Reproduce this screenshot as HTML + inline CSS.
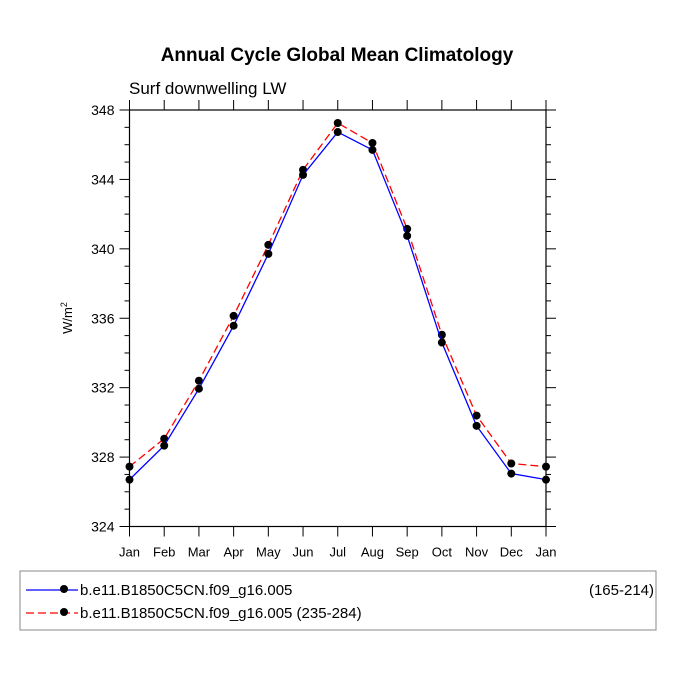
<!DOCTYPE html>
<html><head><meta charset="utf-8"><style>
body{margin:0;background:#fff}
svg{display:block;font-family:"Liberation Sans",sans-serif}
</style></head><body>
<svg id="c" width="675" height="676">
<text x="337" y="61" text-anchor="middle" font-size="19" font-weight="bold">Annual Cycle Global Mean Climatology</text>
<text x="129" y="94" font-size="17">Surf downwelling LW</text>
<text transform="translate(72,318) rotate(-90)" text-anchor="middle" font-size="13">W/m<tspan dy="-5" font-size="9">2</tspan></text>
<g id="axes"></g><g id="series"></g>
<rect x="20" y="571" width="636" height="59" fill="none" stroke="#888"/>
<g>
<line x1="26" y1="590" x2="78" y2="590" stroke="blue" stroke-width="1.3"/><circle cx="64" cy="589" r="4" fill="#000"/>
<text x="80" y="595" font-size="15">b.e11.B1850C5CN.f09_g16.005</text><text x="654" y="595" font-size="15" text-anchor="end">(165-214)</text></g>
<g>
<line x1="26" y1="613" x2="78" y2="613" stroke="red" stroke-width="1.3" stroke-dasharray="8,4"/><circle cx="64" cy="612" r="4" fill="#000"/>
<text x="80" y="618" font-size="15">b.e11.B1850C5CN.f09_g16.005 (235-284)</text></g>
</svg>
<script>
const months=["Jan","Feb","Mar","Apr","May","Jun","Jul","Aug","Sep","Oct","Nov","Dec","Jan"];
const seriesA=[326.7,328.66,331.94,335.57,339.71,344.26,346.73,345.7,340.75,334.6,329.8,327.05,326.7];
const seriesB=[327.45,329.06,332.4,336.14,340.23,344.55,347.25,346.1,341.15,335.05,330.39,327.63,327.45];
const yTicks=[324,328,332,336,340,344,348];
const NS="http://www.w3.org/2000/svg";
const L=129.5,R=546,T=110,B=526.5,ymin=324,ymax=348;
const xs=i=>L+(R-L)*i/(months.length-1);
const ys=v=>B-(v-ymin)/(ymax-ymin)*(B-T);
function mk(tag,at,parent){const e=document.createElementNS(NS,tag);for(const k in at)e.setAttribute(k,at[k]);parent.appendChild(e);return e;}
const ax=document.getElementById('axes');
const fr=mk('rect',{x:L,y:T,width:R-L,height:B-T,fill:'none',stroke:'#000','stroke-width':1.2},ax);


months.forEach((m,i)=>{const x=xs(i);
mk('line',{x1:x,y1:B,x2:x,y2:B+10,stroke:'#000'},ax);
mk('line',{x1:x,y1:T,x2:x,y2:T-10,stroke:'#000'},ax);
const t=mk('text',{x:x,y:B+30,'text-anchor':'middle','font-size':13},ax);t.textContent=m;

});
for(let v=ymin;v<=ymax;v+=1){const y=ys(v);const maj=yTicks.includes(v);const len=maj?10:5;
mk('line',{x1:L,y1:y,x2:L-len,y2:y,stroke:'#000'},ax);
mk('line',{x1:R,y1:y,x2:R+len,y2:y,stroke:'#000'},ax);}
yTicks.forEach(v=>{const t=mk('text',{x:L-15,y:ys(v)+5,'text-anchor':'end','font-size':14},ax);t.textContent=v;

});
const sg=document.getElementById('series');
function draw(vals,col,dash,name){
const p=mk('polyline',{points:vals.map((v,i)=>xs(i)+','+ys(v)).join(' '),fill:'none',stroke:col,'stroke-width':1.3,'stroke-dasharray':dash},sg);


vals.forEach((v,i)=>{const c=mk('circle',{cx:xs(i),cy:ys(v),r:4,fill:'#000'},sg);

});}
draw(seriesB,'red','8,4','series-235-284');
draw(seriesA,'blue','none','series-165-214');
</script>
</body></html>
